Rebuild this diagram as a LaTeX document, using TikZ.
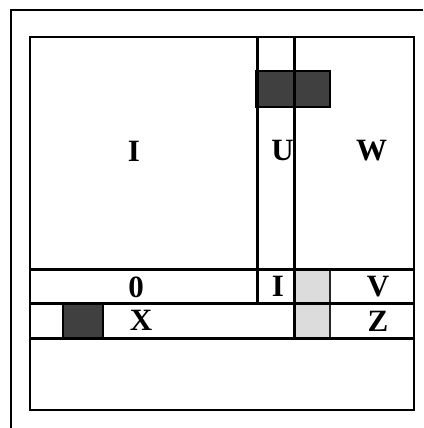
\documentclass[tikz,border=0pt]{standalone}
\usepackage{fontspec}
\setmainfont{Liberation Serif}
\begin{document}
\begin{tikzpicture}[x=1pt,y=-1pt,
  lbl/.style={font=\fontsize{31}{31}\selectfont\bfseries, inner sep=0pt, anchor=base},
  frame/.style={line width=2.8pt, draw=black},
  grid/.style={line width=2.5pt, draw=black},
  darkcell/.style={fill=darkfill, draw=black, line width=2.5pt},
  lightcell/.style={fill=lightfill, draw=black!85, line width=2pt}]
\definecolor{darkfill}{HTML}{404040}
\definecolor{lightfill}{HTML}{DCDCDC}
\useasboundingbox (0,0) rectangle (423,428);
% fills
\path[lightcell] (294.3,269.3) rectangle (330,303.3);
\path[lightcell] (294.3,303.3) rectangle (330,338.3);
\path[darkcell] (256,71) rectangle (330,107);
\path[darkcell] (63,303.3) rectangle (103,338.3);
% outer frame
\draw[frame] (11,428) -- (11,10) -- (423,10);
% inner rectangle
\draw[grid] (30,37) rectangle (414,410);
% grid lines
\draw[grid] (257.3,37) -- (257.3,303.3);
\draw[grid] (294.3,37) -- (294.3,338.3);
\draw[grid] (30,269.3) -- (414,269.3);
\draw[grid] (30,303.3) -- (414,303.3);
\draw[grid] (30,338.3) -- (414,338.3);
% labels
\node[lbl] (lI) at (134,161) {I};
\node[lbl] (lU) at (282.5,160.5) {U};
\node[lbl] (lW) at (371.5,160.5) {W};
\node[lbl] (l0) at (136,297) {0};
\node[lbl] (lI2) at (278,296.7) {I};
\node[lbl] (lV) at (378,296.7) {V};
\node[lbl] (lX) at (141,330.7) {X};
\node[lbl] (lZ) at (378,331.5) {Z};
\end{tikzpicture}
\end{document}
